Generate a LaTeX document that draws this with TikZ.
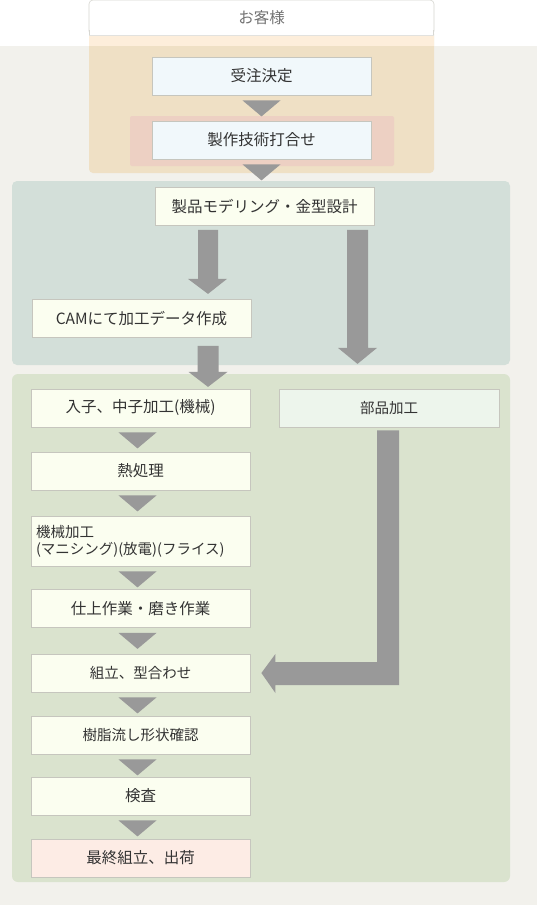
\documentclass[tikz,border=0pt]{standalone}
\usepackage{fontspec}
\setmainfont{Noto Sans CJK JP}
\usetikzlibrary{calc}
\definecolor{bg}{HTML}{F2F1EC}
\definecolor{orangeT}{HTML}{FDEEDB}
\definecolor{orangeB}{HTML}{EFE0C5}
\definecolor{pinkpanel}{HTML}{EDD0C3}
\definecolor{bluebox}{HTML}{F1F8FB}
\definecolor{tealpanel}{HTML}{D3DFD9}
\definecolor{greenpanel}{HTML}{DAE3CE}
\definecolor{ivory}{HTML}{FBFEF0}
\definecolor{pinkbox}{HTML}{FDECE5}
\definecolor{partbox}{HTML}{EDF5EC}
\definecolor{agray}{HTML}{999999}
\definecolor{boxline}{HTML}{C6C6BE}
\definecolor{txt}{HTML}{333333}
\tikzset{
  box/.style={draw=boxline, line width=0.8pt, fill=ivory, minimum height=38pt, minimum width=219pt, inner sep=0pt, text=txt, font=\fontsize{14.5}{17}\selectfont},
  bigtext/.style={font=\fontsize{15.5}{18}\selectfont},
  tri/.style={fill=agray}
}
\newcommand\downtri[2]{\fill[tri] ($(#1.south)+(#2-19,5)$) -- ($(#1.south)+(#2+19,5)$) -- ($(#1.south)+(#2,21)$) -- cycle;}
\begin{document}
\begin{tikzpicture}[x=1pt,y=-1pt]
\useasboundingbox (0,0) rectangle (537,905);
% backgrounds
\fill[white] (0,0) rectangle (537,46);
\fill[bg] (0,46) rectangle (537,905);
% orange customer panel
\fill[orangeB, rounded corners=4pt] (89,30) rectangle (434,173);
\fill[orangeT] (89,30) rectangle (434,46);
\node[draw=boxline!70, line width=0.6pt, fill=white, rounded corners=4pt, minimum width=345pt, minimum height=35pt, inner sep=0pt, text=black!55, bigtext] (cust) at (261.5,17.5) {お客様};
\fill[white] (89.5,30) rectangle (433.5,34.5);
\draw[boxline!70, line width=0.6pt] (89.3,30) -- (89.3,35) (433.7,30) -- (433.7,35);
\draw[boxline!50, line width=0.6pt] (89,35) -- (434,35);
\fill[pinkpanel, rounded corners=2pt] (130,116) rectangle (394,166);
\node[box, fill=bluebox, bigtext] (order) at (261.5,76) {受注決定};
\node[box, fill=bluebox, bigtext] (meet) at (261.5,140) {製作技術打合せ};
\downtri{order}{0}
\downtri{meet}{0}
% teal panel
\fill[tealpanel, rounded corners=5pt] (12,181) rectangle (510,365);
\node[box, bigtext] (design) at (264.5,206.5) {製品モデリング・金型設計};
\node[box, bigtext] (cam) at (141.5,318.5) {CAMにて加工データ作成};
% green panel
\fill[greenpanel, rounded corners=6pt] (12,374) rectangle (510,882);
\node[box, bigtext] (b1) at (140.5,408) {入子、中子加工(機械)};
\node[box, fill=partbox, minimum width=220pt] (parts) at (389,408) {部品加工};
\node[box, bigtext] (b2) at (140.5,471) {熱処理};
\node[box, minimum height=50pt, align=left, text width=209pt] (b3) at (140.5,541) {機械加工\\(マニシング)(放電)(フライス)};
\node[box, bigtext] (b4) at (140.5,608.5) {仕上作業・磨き作業};
\node[box] (b5) at (140.5,673) {組立、型合わせ};
\node[box] (b6) at (140.5,735) {樹脂流し形状確認};
\node[box, bigtext] (b7) at (140.5,796) {検査};
\node[box, bigtext, fill=pinkbox] (b8) at (140.5,858) {最終組立、出荷};
\downtri{b1}{-3}
\downtri{b2}{-3}
\downtri{b3}{-3}
\downtri{b4}{-3}
\downtri{b5}{-3}
\downtri{b6}{-3}
\downtri{b7}{-3}
% thick arrows
\fill[agray] ($(design.south)+(-66.5,4)$) -- ($(design.south)+(-46.5,4)$) -- ($(design.south)+(-46.5,53)$) -- ($(design.south)+(-37.5,53)$) -- ($(design.south)+(-56.5,68)$) -- ($(design.south)+(-76.5,53)$) -- ($(design.south)+(-66.5,53)$) -- cycle;
\fill[agray] ($(design.south)+(82.5,4)$) -- ($(design.south)+(103.5,4)$) -- ($(design.south)+(103.5,122)$) -- ($(design.south)+(112.5,122)$) -- ($(design.south)+(93,138)$) -- ($(design.south)+(73.5,122)$) -- ($(design.south)+(82.5,122)$) -- cycle;
\fill[agray] ($(cam.south)+(56,8)$) -- ($(cam.south)+(77,8)$) -- ($(cam.south)+(77,34)$) -- ($(cam.south)+(86,34)$) -- ($(cam.south)+(66.5,49)$) -- ($(cam.south)+(47,34)$) -- ($(cam.south)+(56,34)$) -- cycle;
% L arrow from parts to b5
\coordinate (ltop) at ($(parts.south)+(-12,3)$);
\fill[agray] (ltop) -- ($(ltop)+(22,0)$) |- ($(b5.east)+(25,12)$) -- ($(b5.east)+(25,20)$) -- ($(b5.east)+(11,0)$) -- ($(b5.east)+(25,-19)$) -- ($(b5.east)+(25,-11)$) -| (ltop) -- cycle;
\end{tikzpicture}
\end{document}
